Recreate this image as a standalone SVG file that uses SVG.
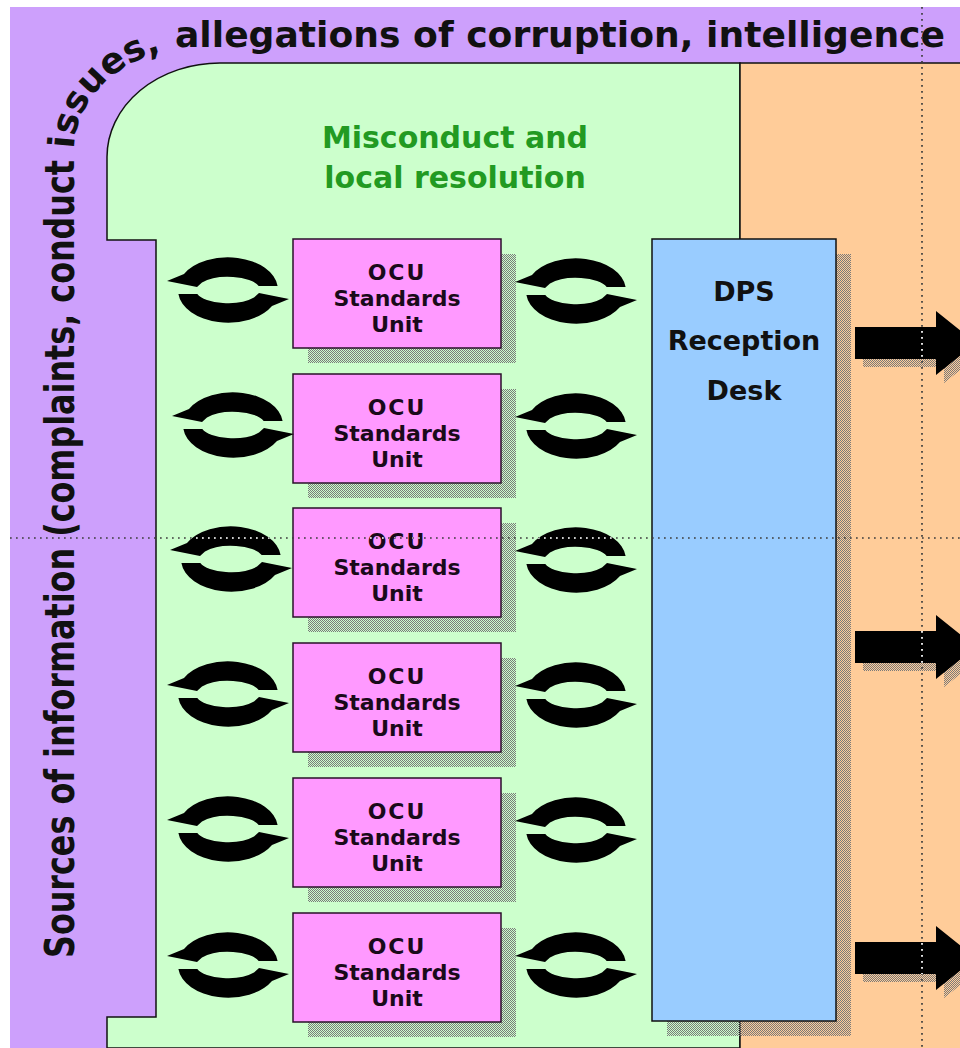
<svg xmlns="http://www.w3.org/2000/svg" width="960" height="1048" viewBox="0 0 960 1048">
  <defs>
    <style>
      .bold { font-family: "DejaVu Sans", Verdana, sans-serif; font-weight: bold; }
      .box { fill: #ff99ff; stroke: #2a102a; stroke-width: 1.5; }
      .desk { fill: #99ccff; stroke: #111; stroke-width: 1.5; }
      .shadow { fill: url(#hatch); }
      .lbl { font-size: 22px; fill: #1a0a1a; text-anchor: middle; }
      .ocu { letter-spacing: 2px; }
      .big { font-size: 27px; fill: #111; text-anchor: middle; }
      .title { font-size: 30px; fill: #229a22; text-anchor: middle; }
      .side { font-size: 36px; fill: #111; }
      .ink { fill: #000; }
      .dots { fill: none; stroke: #3c3c3c; stroke-width: 1.7; stroke-dasharray: 1.7 4.3; }
      .dots-w { fill: none; stroke: #fff; stroke-width: 1.7; stroke-dasharray: 1.7 4.3; }
    </style>
    <!-- dithered drop shadow -->
    <pattern id="hatch" width="2" height="2" patternUnits="userSpaceOnUse">
      <rect width="1" height="1" fill="#7a7a7a"/>
      <rect x="1" y="1" width="1" height="1" fill="#7a7a7a"/>
    </pattern>
    <!-- two thick crescent arrows forming a cycle, centred on 0,0 -->
    <path id="cycle" d="M-61,-9 L-44,-16 A50,32 0 0 1 49.6,-4 L30.7,-4 A32,13 0 0 0 -26,-7.6 L-31,-3 Z M61,9 L44,16 A50,32 0 0 1 -49.6,4 L-30.7,4 A32,13 0 0 0 26,7.6 L31,3 Z"/>
    <!-- block arrow, tail at 0,0 -->
    <path id="bigArrow" d="M0,-16 L81,-16 L81,-32 L121,0 L81,32 L81,16 L0,16 Z"/>
    <!-- baseline of the curved corner word -->
    <path id="arcPath" d="M74,161 L74,150 A126,103 0 0 1 200,47 L240,47"/>
    <clipPath id="arrowClip">
      <use href="#bigArrow" transform="translate(855,343)"/>
      <use href="#bigArrow" transform="translate(855,647)"/>
      <use href="#bigArrow" transform="translate(855,958)"/>
    </clipPath>
    <clipPath id="rowClip">
      <use href="#cycle" transform="translate(231,559)"/>
      <use href="#cycle" transform="translate(576,560)"/>
      <text class="bold lbl ocu" x="397" y="549">OCU</text>
    </clipPath>
  </defs>

  <!-- page and outer band -->
  <rect width="960" height="1048" fill="#fff"/>
  <rect x="10" y="7" width="950" height="1041" fill="#cda0fc"/>

  <!-- regions -->
  <g id="misconduct-region">
    <path d="M107,1048 L107,1017 L156,1017 L156,240 L107,240 L107,157 A113,94 0 0 1 220,63 L740,63 L740,1048 Z" fill="#ccffcc" stroke="#111" stroke-width="1.5"/>
    <text class="bold title" x="455" y="148">Misconduct and</text>
    <text class="bold title" x="455" y="188">local resolution</text>
  </g>
  <g id="onward-region">
    <rect x="740" y="63" width="230" height="995" fill="#ffcc99" stroke="#111" stroke-width="1.5"/>
  </g>

  <!-- band text: up the left side, round the corner, along the top -->
  <g id="sources-label" class="bold side">
    <text font-size="32" transform="translate(74,958) rotate(-90) scale(1,1.3)" textLength="798" lengthAdjust="spacingAndGlyphs">Sources of information (complaints, conduct</text>
    <text><textPath href="#arcPath" startOffset="12">issues,</textPath></text>
    <text x="175" y="47" textLength="770" lengthAdjust="spacingAndGlyphs">allegations of corruption, intelligence</text>
  </g>

  <!-- OCU standards units -->
  <g id="ocu-1">
    <rect class="shadow" x="308" y="254" width="208" height="109"/>
    <rect class="box" x="293" y="239" width="208" height="109"/>
    <text class="bold lbl ocu" x="397" y="280">OCU</text>
    <text class="bold lbl" x="397" y="306">Standards</text>
    <text class="bold lbl" x="397" y="332">Unit</text>
  </g>
  <g id="ocu-2">
    <rect class="shadow" x="308" y="389" width="208" height="109"/>
    <rect class="box" x="293" y="374" width="208" height="109"/>
    <text class="bold lbl ocu" x="397" y="415">OCU</text>
    <text class="bold lbl" x="397" y="441">Standards</text>
    <text class="bold lbl" x="397" y="467">Unit</text>
  </g>
  <g id="ocu-3">
    <rect class="shadow" x="308" y="523" width="208" height="109"/>
    <rect class="box" x="293" y="508" width="208" height="109"/>
    <text class="bold lbl ocu" x="397" y="549">OCU</text>
    <text class="bold lbl" x="397" y="575">Standards</text>
    <text class="bold lbl" x="397" y="601">Unit</text>
  </g>
  <g id="ocu-4">
    <rect class="shadow" x="308" y="658" width="208" height="109"/>
    <rect class="box" x="293" y="643" width="208" height="109"/>
    <text class="bold lbl ocu" x="397" y="684">OCU</text>
    <text class="bold lbl" x="397" y="710">Standards</text>
    <text class="bold lbl" x="397" y="736">Unit</text>
  </g>
  <g id="ocu-5">
    <rect class="shadow" x="308" y="793" width="208" height="109"/>
    <rect class="box" x="293" y="778" width="208" height="109"/>
    <text class="bold lbl ocu" x="397" y="819">OCU</text>
    <text class="bold lbl" x="397" y="845">Standards</text>
    <text class="bold lbl" x="397" y="871">Unit</text>
  </g>
  <g id="ocu-6">
    <rect class="shadow" x="308" y="928" width="208" height="109"/>
    <rect class="box" x="293" y="913" width="208" height="109"/>
    <text class="bold lbl ocu" x="397" y="954">OCU</text>
    <text class="bold lbl" x="397" y="980">Standards</text>
    <text class="bold lbl" x="397" y="1006">Unit</text>
  </g>

  <!-- DPS reception desk -->
  <g id="dps-reception-desk">
    <rect class="shadow" x="667" y="254" width="184" height="782"/>
    <rect class="desk" x="652" y="239" width="184" height="782"/>
    <text class="bold big" x="744" y="301">DPS</text>
    <text class="bold big" x="744" y="350">Reception</text>
    <text class="bold big" x="744" y="400">Desk</text>
  </g>

  <!-- connectors: cycle arrows and outgoing block arrows -->
  <g id="connectors">
    <g class="ink">
      <use href="#cycle" transform="translate(228,290)"/>
      <use href="#cycle" transform="translate(233,425)"/>
      <use href="#cycle" transform="translate(231,559)"/>
      <use href="#cycle" transform="translate(228,694)"/>
      <use href="#cycle" transform="translate(228,829)"/>
      <use href="#cycle" transform="translate(228,965)"/>
      <use href="#cycle" transform="translate(576,291)"/>
      <use href="#cycle" transform="translate(576,426)"/>
      <use href="#cycle" transform="translate(576,560)"/>
      <use href="#cycle" transform="translate(576,695)"/>
      <use href="#cycle" transform="translate(576,830)"/>
      <use href="#cycle" transform="translate(576,965)"/>
    </g>
    <g class="shadow">
      <use href="#bigArrow" transform="translate(863,351)"/>
      <use href="#bigArrow" transform="translate(863,655)"/>
      <use href="#bigArrow" transform="translate(863,966)"/>
    </g>
    <g class="ink">
      <use href="#bigArrow" transform="translate(855,343)"/>
      <use href="#bigArrow" transform="translate(855,647)"/>
      <use href="#bigArrow" transform="translate(855,958)"/>
    </g>
  </g>

  <!-- dotted guide lines, light where they cross black -->
  <g id="guides">
    <line class="dots" x1="922" y1="7" x2="922" y2="1048"/>
    <line class="dots" x1="10" y1="538" x2="960" y2="538"/>
    <line class="dots-w" x1="922" y1="7" x2="922" y2="1048" clip-path="url(#arrowClip)"/>
    <line class="dots-w" x1="10" y1="538" x2="960" y2="538" clip-path="url(#rowClip)"/>
  </g>
</svg>
